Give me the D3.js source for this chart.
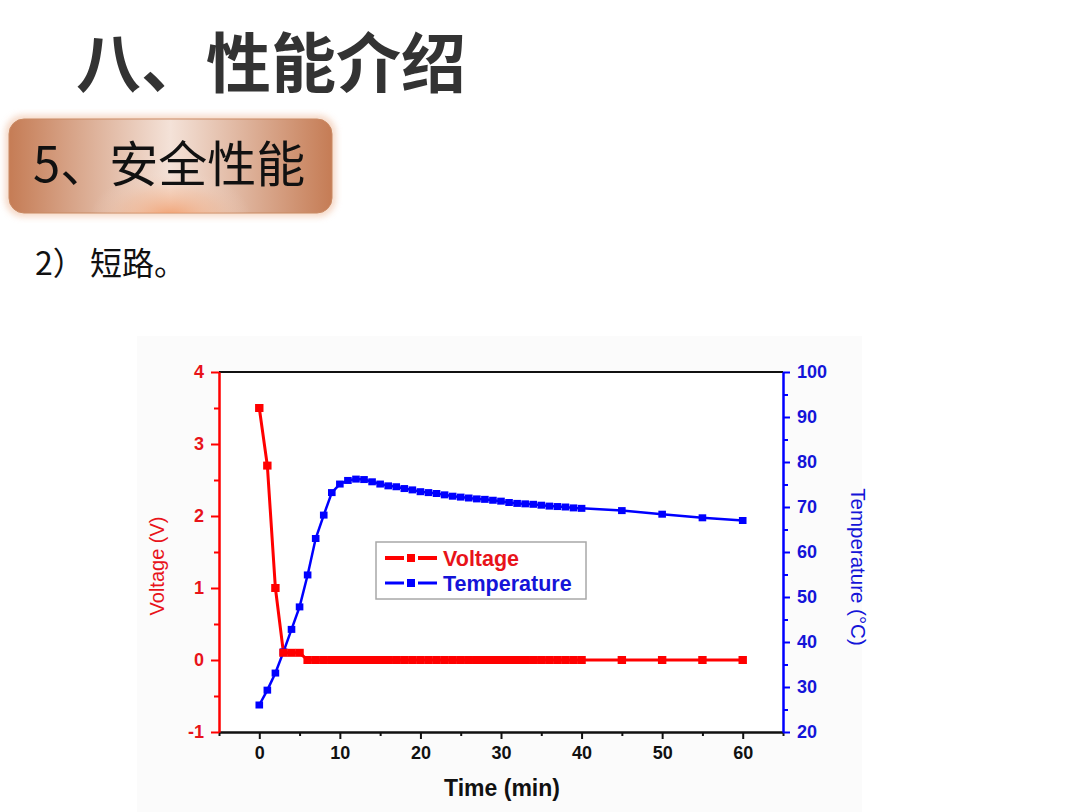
<!DOCTYPE html>
<html>
<head>
<meta charset="utf-8">
<script src="https://cdn.jsdelivr.net/npm/d3@7"></script>
<style>
  html, body { margin: 0; padding: 0; background: #fff; }
  svg { display: block; }
</style>
</head>
<body>
<div id="slide"></div>
<script>
// data
var timeMin = [0, 1, 2, 3, 4, 5, 6, 7, 8, 9, 10, 11, 12, 13, 14, 15, 16, 17, 18, 19, 20,
    21, 22, 23, 24, 25, 26, 27, 28, 29, 30, 31, 32, 33, 34, 35, 36, 37, 38, 39, 40,
    45, 50, 55, 60];
var voltage = [3.5, 2.7, 1.0, 0.1, 0.1, 0.1, 0, 0, 0, 0, 0, 0, 0, 0, 0, 0, 0, 0, 0, 0, 0,
    0, 0, 0, 0, 0, 0, 0, 0, 0, 0, 0, 0, 0, 0, 0, 0, 0, 0, 0, 0,
    0, 0, 0, 0];
var temperature = [26.0, 29.3, 33.1, 37.8, 42.8, 47.8, 54.9, 63.0, 68.2, 73.2, 75.1,
    75.9, 76.2, 76.1, 75.6, 75.1, 74.7, 74.5, 74.1, 73.8, 73.4,
    73.2, 73.0, 72.7, 72.4, 72.2, 72.0, 71.8, 71.7, 71.5, 71.3,
    71.0, 70.8, 70.7, 70.6, 70.4, 70.2, 70.1, 70.0, 69.8, 69.7,
    69.2, 68.4, 67.6, 67.0];
var xTicks = [0, 10, 20, 30, 40, 50, 60];
var xMinorTicks = [-5, 5, 15, 25, 35, 45, 55, 65];
var vTicks = [-1, 0, 1, 2, 3, 4];
var vMinorTicks = [-0.5, 0.5, 1.5, 2.5, 3.5];
var tTicks = [20, 30, 40, 50, 60, 70, 80, 90, 100];
var tMinorTicks = [25, 35, 45, 55, 65, 75, 85, 95];
var seriesNames = ['Voltage', 'Temperature'];

var RED = '#f00', BLUE = '#00f';
var RED_TXT = '#e8131a', BLUE_TXT = '#1414d8';
var cjk = '"Noto Sans CJK SC", "Noto Sans", sans-serif';
var latin = '"Liberation Sans", Arial, sans-serif';
var plain = function(d) { return String(d); };

var svg = d3.select('#slide').append('svg')
    .attr('width', 1080).attr('height', 812);

var defs = svg.append('defs');
var lg = defs.append('linearGradient').attr('id', 'boxGrad')
    .attr('x1', 0).attr('x2', 1).attr('y1', 0).attr('y2', 0);
lg.append('stop').attr('offset', '0%').attr('stop-color', '#c57c55');
lg.append('stop').attr('offset', '50%').attr('stop-color', '#f4e2d8');
lg.append('stop').attr('offset', '100%').attr('stop-color', '#c57c55');
var rg = defs.append('radialGradient').attr('id', 'boxGlow')
    .attr('cx', 0.5).attr('cy', 1.05).attr('r', 0.5)
    .attr('gradientTransform', 'translate(0.5,1.05) scale(0.5,1) translate(-0.5,-1.05)');
rg.append('stop').attr('offset', '0%').attr('stop-color', '#f09a68').attr('stop-opacity', 0.95);
rg.append('stop').attr('offset', '60%').attr('stop-color', '#f3b48e').attr('stop-opacity', 0.35);
rg.append('stop').attr('offset', '100%').attr('stop-color', '#f4e2d8').attr('stop-opacity', 0);
defs.append('filter').attr('id', 'soft')
    .attr('x', '-10%').attr('y', '-20%').attr('width', '120%').attr('height', '140%')
    .append('feGaussianBlur').attr('stdDeviation', 3);

// heading
svg.append('text')
    .attr('x', 76).attr('y', 87)
    .attr('font-family', cjk).attr('font-weight', 700)
    .attr('font-size', 65).attr('fill', '#333')
    .text('八、性能介绍');

// copper box
svg.append('rect')
    .attr('x', 5).attr('y', 115).attr('width', 331).attr('height', 102)
    .attr('rx', 18).attr('fill', '#f2c9b0').attr('opacity', 0.7)
    .attr('filter', 'url(#soft)');
svg.append('rect')
    .attr('x', 9).attr('y', 119).attr('width', 323).attr('height', 94)
    .attr('rx', 15).attr('fill', 'url(#boxGrad)')
    .attr('stroke', '#c98a64').attr('stroke-width', 1);
svg.append('rect')
    .attr('x', 9).attr('y', 119).attr('width', 323).attr('height', 94)
    .attr('rx', 15).attr('fill', 'url(#boxGlow)');
svg.append('text')
    .attr('x', 33).attr('y', 182)
    .attr('font-family', cjk).attr('font-size', 49).attr('fill', '#111')
    .text('5、安全性能');

var sub = svg.append('text')
    .attr('x', 35).attr('y', 275)
    .attr('font-family', cjk).attr('font-size', 32).attr('fill', '#111');
sub.append('tspan').text('2）');
sub.append('tspan').attr('x', 90).text('短路。');

// chart panel background
svg.append('rect')
    .attr('x', 137).attr('y', 336).attr('width', 725).attr('height', 476)
    .attr('fill', '#fbfbfb');

var x = d3.scaleLinear().domain([-5, 65]).range([219, 783]);
var yV = d3.scaleLinear().domain([-1, 4]).range([732, 372]);
var yT = d3.scaleLinear().domain([20, 100]).range([732, 372]);

svg.append('rect')
    .attr('x', x(-5)).attr('y', yV(4))
    .attr('width', x(65) - x(-5)).attr('height', yV(-1) - yV(4))
    .attr('fill', '#fff');

// top frame line
svg.append('line')
    .attr('x1', x(-5)).attr('x2', x(65)).attr('y1', yV(4)).attr('y2', yV(4))
    .attr('stroke', '#111').attr('stroke-width', 2);

function styleAxis(g, color, txtColor) {
    g.select('.domain').attr('stroke', color).attr('stroke-width', 2);
    g.selectAll('.tick line').attr('stroke', color).attr('stroke-width', 2);
    g.selectAll('.tick text')
        .attr('fill', txtColor).attr('font-family', latin)
        .attr('font-weight', 700).attr('font-size', 18);
}

// bottom axis
var gx = svg.append('g').attr('transform', 'translate(0,' + yV(-1) + ')');
gx.call(d3.axisBottom(x).tickValues(xMinorTicks).tickSize(4).tickFormat('').tickSizeOuter(0));
styleAxis(gx, '#111', '#111');
var gx2 = svg.append('g').attr('transform', 'translate(0,' + yV(-1) + ')');
gx2.call(d3.axisBottom(x).tickValues(xTicks).tickFormat(plain)
    .tickSize(7).tickPadding(7).tickSizeOuter(0));
styleAxis(gx2, '#111', '#111');

// left axis (voltage)
var gl = svg.append('g').attr('transform', 'translate(' + x(-5) + ',0)');
gl.call(d3.axisLeft(yV).tickValues(vMinorTicks).tickSize(5).tickFormat('').tickSizeOuter(0));
styleAxis(gl, RED, RED_TXT);
var gl2 = svg.append('g').attr('transform', 'translate(' + x(-5) + ',0)');
gl2.call(d3.axisLeft(yV).tickValues(vTicks).tickFormat(plain)
    .tickSize(8).tickPadding(7).tickSizeOuter(0));
styleAxis(gl2, RED, RED_TXT);

// right axis (temperature)
var gr = svg.append('g').attr('transform', 'translate(' + x(65) + ',0)');
gr.call(d3.axisRight(yT).tickValues(tMinorTicks).tickSize(5).tickFormat('').tickSizeOuter(0));
styleAxis(gr, BLUE, BLUE_TXT);
var gr2 = svg.append('g').attr('transform', 'translate(' + x(65) + ',0)');
gr2.call(d3.axisRight(yT).tickValues(tTicks).tickFormat(plain)
    .tickSize(7).tickPadding(7).tickSizeOuter(0));
styleAxis(gr2, BLUE, BLUE_TXT);

// axis titles
svg.append('text')
    .attr('transform', 'translate(164,566) rotate(-90)')
    .attr('text-anchor', 'middle')
    .attr('font-family', latin).attr('font-size', 20).attr('fill', RED_TXT)
    .text('Voltage (V)');
svg.append('text')
    .attr('transform', 'translate(851,567) rotate(90)')
    .attr('text-anchor', 'middle')
    .attr('font-family', latin).attr('font-size', 20.5).attr('fill', BLUE_TXT)
    .text('Temperature  (°C)');
svg.append('text')
    .attr('x', 502).attr('y', 796)
    .attr('text-anchor', 'middle')
    .attr('font-family', latin).attr('font-weight', 700).attr('font-size', 23)
    .attr('fill', '#111')
    .text('Time (min)');

// series
var vData = timeMin.map(function(t, i) { return {t: t, v: voltage[i]}; });
var tData = timeMin.map(function(t, i) { return {t: t, v: temperature[i]}; });

var lineV = d3.line().x(function(d) { return x(d.t); }).y(function(d) { return yV(d.v); });
var lineT = d3.line().x(function(d) { return x(d.t); }).y(function(d) { return yT(d.v); });

svg.append('path').datum(tData)
    .attr('d', lineT).attr('fill', 'none')
    .attr('stroke', BLUE).attr('stroke-width', 2.5);
svg.append('path').datum(vData)
    .attr('d', lineV).attr('fill', 'none')
    .attr('stroke', RED).attr('stroke-width', 3);

svg.append('g').selectAll('rect')
    .data(tData).enter().append('rect')
    .attr('x', function(d) { return x(d.t) - 3.8; })
    .attr('y', function(d) { return yT(d.v) - 3.5; })
    .attr('width', 7.6).attr('height', 7)
    .attr('fill', BLUE);
svg.append('g').selectAll('rect')
    .data(vData).enter().append('rect')
    .attr('x', function(d) { return x(d.t) - 4.2; })
    .attr('y', function(d) { return yV(d.v) - 4; })
    .attr('width', 8.4).attr('height', 8)
    .attr('fill', RED);

// legend
var legend = svg.append('g');
legend.append('rect')
    .attr('x', 376).attr('y', 542).attr('width', 210).attr('height', 57)
    .attr('fill', '#fff').attr('stroke', '#a8a8a8').attr('stroke-width', 1.5);
var legendColors = [RED, BLUE];
var legendText = [RED_TXT, BLUE_TXT];
var rows = legend.selectAll('g.row')
    .data(seriesNames).enter().append('g')
    .attr('class', 'row')
    .attr('transform', function(d, i) { return 'translate(0,' + (558 + i * 25) + ')'; });
rows.append('line')
    .attr('x1', 385).attr('x2', 404).attr('y1', 0).attr('y2', 0)
    .attr('stroke', function(d, i) { return legendColors[i]; })
    .attr('stroke-width', function(d, i) { return i === 0 ? 4 : 3; });
rows.append('line')
    .attr('x1', 418).attr('x2', 437).attr('y1', 0).attr('y2', 0)
    .attr('stroke', function(d, i) { return legendColors[i]; })
    .attr('stroke-width', function(d, i) { return i === 0 ? 4 : 3; });
rows.append('rect')
    .attr('x', 407).attr('y', -4).attr('width', 8).attr('height', 8)
    .attr('fill', function(d, i) { return legendColors[i]; });
rows.append('text')
    .attr('x', 443).attr('y', 7.5)
    .attr('font-family', latin).attr('font-weight', 700).attr('font-size', 21.5)
    .attr('fill', function(d, i) { return legendText[i]; })
    .text(function(d) { return d; });
</script>
</body>
</html>
